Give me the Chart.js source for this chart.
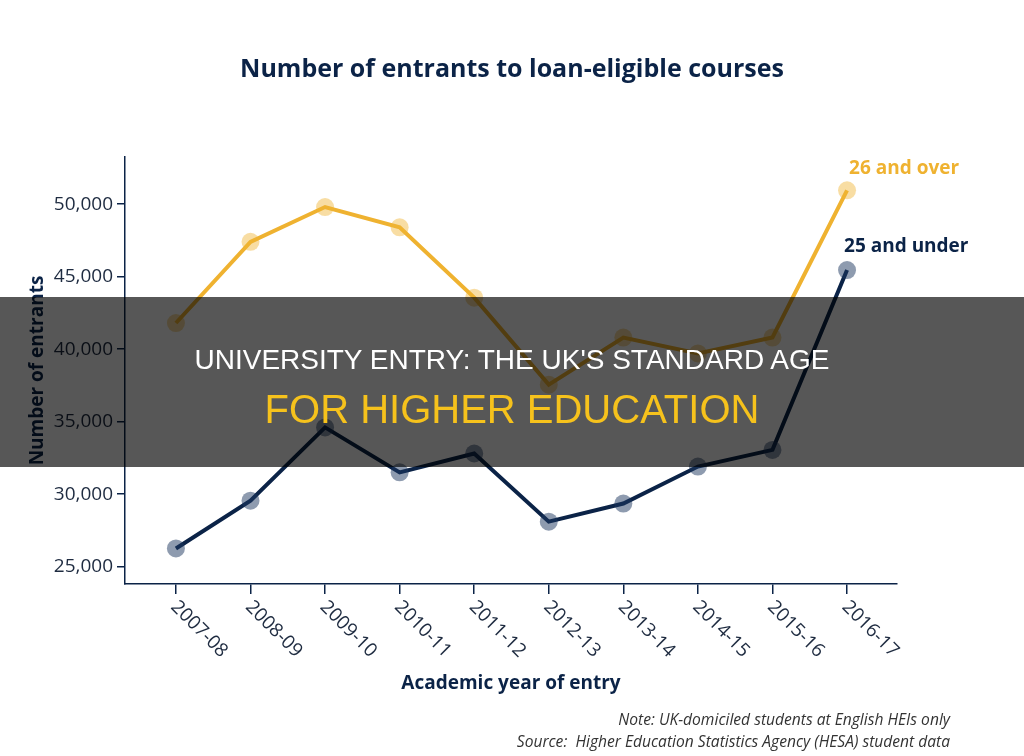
<!DOCTYPE html>
<html>
<head>
<meta charset="utf-8">
<script src="https://cdn.jsdelivr.net/npm/chart.js@4/dist/chart.umd.min.js"></script>
<style>
  html, body { margin: 0; padding: 0; background: #fff; }
  #wrap { position: relative; width: 1024px; height: 756px; }
  #banner { position: absolute; left: 0; top: 297px; width: 1024px; height: 170px;
    background: rgba(0,0,0,0.66); text-align: center; font-family: "Liberation Sans", Arial, sans-serif; }
  #b1 { position: absolute; left: 0; width: 100%; top: 49px; color: #fff; font-size: 28px; line-height: 28px; white-space: nowrap; }
  #b2 { position: absolute; left: 0; width: 100%; top: 92px; color: #F6C21C; font-size: 40px; line-height: 40px; white-space: nowrap; }
</style>
</head>
<body>
<div id="wrap">
  <canvas id="c" width="1024" height="756"></canvas>
  <div id="banner"><div id="b1">UNIVERSITY ENTRY: THE UK'S STANDARD AGE</div><div id="b2">FOR HIGHER EDUCATION</div></div>
</div>
<script>
const categories = ["2007-08","2008-09","2009-10","2010-11","2011-12","2012-13","2013-14","2014-15","2015-16","2016-17"];
const over26 = [41800, 47400, 49800, 48400, 43550, 37550, 40800, 39700, 40800, 50950];
const under25 = [26250, 29550, 34600, 31500, 32800, 28100, 29350, 31900, 33050, 45450];
const yTicks = [25000, 30000, 35000, 40000, 45000, 50000];
const seriesNames = ["26 and over", "25 and under"];
const chartTitle = "Number of entrants to loan-eligible courses";
const notes = ["Note: UK-domiciled students at English HEIs only", "Source:  Higher Education Statistics Agency (HESA) student data"];

const NAVY = "#0B2347";
const ORANGE = "#EFB230";
const FONT = "'Open Sans', sans-serif";

const xyData = arr => arr.map((v, i) => ({ x: i, y: v }));

const labelsPlugin = {
  id: "customLabels",
  afterDraw(chart) {
    const ctx = chart.ctx;
    const xs = chart.scales.x;
    const area = chart.chartArea;
    ctx.save();
    // title
    ctx.fillStyle = NAVY;
    ctx.font = "bold 25px " + FONT;
    ctx.textAlign = "center";
    ctx.textBaseline = "middle";
    ctx.fillText(chartTitle, 512, 70);
    // x tick labels
    ctx.fillStyle = "#1E2B40";
    ctx.font = "19px " + FONT;
    ctx.textAlign = "left";
    ctx.textBaseline = "middle";
    categories.forEach((lab, i) => {
      const px = xs.getPixelForValue(i);
      ctx.save();
      ctx.translate(px - 2, area.bottom + 20);
      ctx.rotate(Math.PI / 4);
      ctx.fillText(lab, 0, 0);
      ctx.restore();
    });
    // end labels
    ctx.font = "bold 19px " + FONT;
    const m0 = chart.getDatasetMeta(0).data;
    const m1 = chart.getDatasetMeta(1).data;
    const p0 = m0[m0.length - 1], p1 = m1[m1.length - 1];
    ctx.fillStyle = ORANGE;
    ctx.fillText(seriesNames[0], p0.x + 2, p0.y - 22);
    ctx.fillStyle = NAVY;
    ctx.fillText(seriesNames[1], p1.x - 3, p1.y - 23);
    // notes
    ctx.fillStyle = "#333";
    ctx.font = "italic 15.6px " + FONT;
    ctx.textAlign = "right";
    ctx.fillText(notes[0], 950, 721);
    ctx.fillText(notes[1], 950, 743);
    ctx.restore();
  }
};

new Chart(document.getElementById("c"), {
  type: "line",
  data: {
    datasets: [
      { label: seriesNames[0], data: xyData(over26), borderColor: ORANGE, borderWidth: 4,
        pointRadius: 9, pointHoverRadius: 9, pointBorderWidth: 0, pointBackgroundColor: "rgba(240,180,50,0.45)", tension: 0, clip: false },
      { label: seriesNames[1], data: xyData(under25), borderColor: NAVY, borderWidth: 4,
        pointRadius: 9, pointHoverRadius: 9, pointBorderWidth: 0, pointBackgroundColor: "rgba(30,55,95,0.5)", tension: 0, clip: false }
    ]
  },
  options: {
    responsive: false,
    animation: false,
    events: [],
    layout: { padding: { left: 0, right: 127, top: 157, bottom: 52 } },
    plugins: {
      legend: { display: false },
      tooltip: { enabled: false },
      title: { display: false }
    },
    scales: {
      x: {
        type: "linear", min: -0.683, max: 9.67,
        afterBuildTicks: s => { s.ticks = categories.map((_, i) => ({ value: i })); },
        ticks: { display: false },
        grid: { drawOnChartArea: false, drawTicks: true, tickLength: 10, color: NAVY, lineWidth: 1.5 },
        border: { color: NAVY, width: 1.5 },
        title: { display: true, text: "Academic year of entry", color: NAVY,
          font: { family: FONT, size: 19, weight: "bold" }, padding: { top: 0, bottom: 9 } },
        afterFit: s => { s.height = 120; }
      },
      y: {
        type: "linear", min: 23800, max: 53250,
        afterBuildTicks: s => { s.ticks = yTicks.map(v => ({ value: v })); },
        ticks: { color: "#1E2B40", font: { family: FONT, size: 19 }, padding: 4,
          callback: v => v.toLocaleString("en-US") },
        grid: { drawOnChartArea: false, drawTicks: true, tickLength: 8, color: NAVY, lineWidth: 1.5 },
        border: { color: NAVY, width: 1.5 },
        title: { display: true, text: "Number of entrants", color: NAVY,
          font: { family: FONT, size: 19, weight: "bold" }, padding: { top: 26, bottom: 0 } },
        afterFit: s => { s.width = 125; }
      }
    }
  },
  plugins: [labelsPlugin]
});
</script>
</body>
</html>
